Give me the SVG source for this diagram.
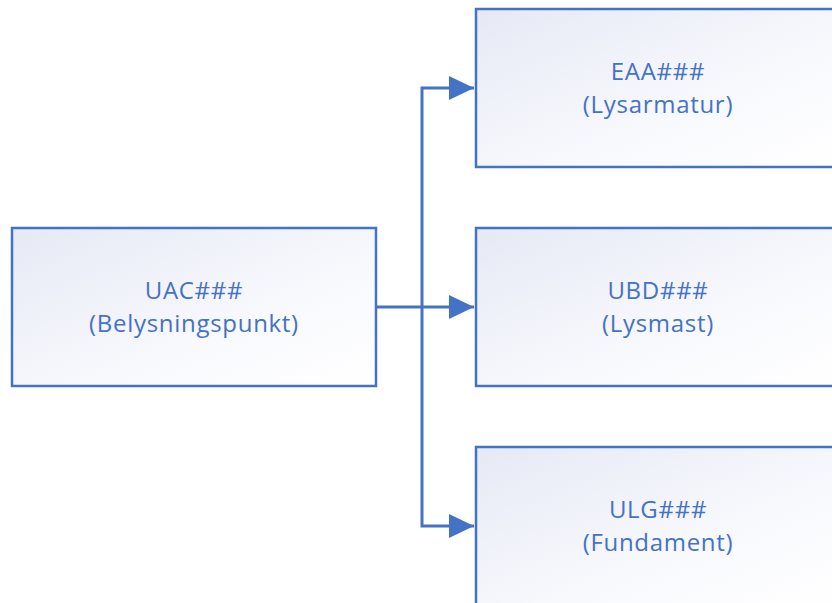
<svg xmlns="http://www.w3.org/2000/svg" width="832" height="603" viewBox="0 0 832 603">
<defs>
<linearGradient id="g" x1="0" y1="0" x2="1" y2="1">
<stop offset="0" stop-color="#e6e9f5"/>
<stop offset="0.6" stop-color="#f8f9fd"/>
<stop offset="1" stop-color="#ffffff"/>
</linearGradient>
<marker id="arr" markerUnits="userSpaceOnUse" markerWidth="26" markerHeight="26" refX="25" refY="12" orient="auto">
<path d="M0,0 L25,12 L0,24 Z" fill="#4472c4"/>
</marker>
</defs>
<style>
.box{fill:url(#g);stroke:#4472c4;stroke-width:2.5}
.t{font-family:"Open Sans","Liberation Sans",sans-serif;font-size:24px;letter-spacing:0.7px;fill:#4472c4;text-anchor:middle}
.c{fill:none;stroke:#4472c4;stroke-width:3}
</style>
<g id="connectors">
<path class="c" d="M376,307 H474" marker-end="url(#arr)"/>
<path class="c" d="M422,307 V88 H474" marker-end="url(#arr)"/>
<path class="c" d="M422,307 V526 H474" marker-end="url(#arr)"/>
</g>
<g id="uac">
<rect class="box" x="12" y="228" width="364" height="158"/>
<text class="t" x="194" y="299">UAC###</text>
<text class="t" x="194" y="332">(Belysningspunkt)</text>
</g>
<g id="eaa">
<rect class="box" x="476" y="9" width="364" height="158"/>
<text class="t" x="658" y="80">EAA###</text>
<text class="t" x="658" y="113">(Lysarmatur)</text>
</g>
<g id="ubd">
<rect class="box" x="476" y="228" width="364" height="158"/>
<text class="t" x="658" y="299">UBD###</text>
<text class="t" x="658" y="332">(Lysmast)</text>
</g>
<g id="ulg">
<rect class="box" x="476" y="447" width="364" height="158"/>
<text class="t" x="658" y="518">ULG###</text>
<text class="t" x="658" y="551">(Fundament)</text>
</g>
</svg>
